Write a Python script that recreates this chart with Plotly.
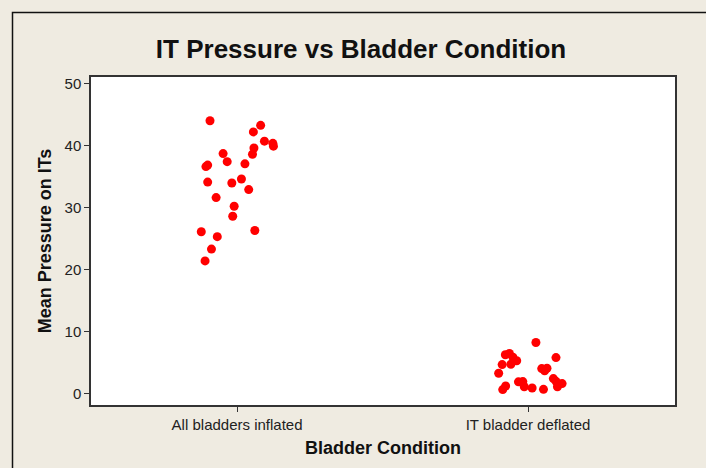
import plotly.graph_objects as go

# Group 1: All bladders inflated (jittered x position, mean pressure)
inflated_x = [0.907, 1.081, 1.056, 1.094, 1.123, 1.125, 1.058, 1.053, 0.952, 0.966,
              0.899, 0.893, 1.027, 0.899, 0.982, 1.015, 1.040, 0.928, 0.990, 0.985,
              0.877, 1.061, 0.932, 0.912, 0.890]
inflated_y = [44.0, 43.25, 42.2, 40.7, 40.35, 39.9, 39.6, 38.6, 38.7, 37.4,
              36.85, 36.6, 37.05, 34.1, 33.95, 34.6, 32.9, 31.6, 30.2, 28.6,
              26.1, 26.3, 25.3, 23.3, 21.4]

# Group 2: IT bladder deflated
deflated_x = [2.027, 1.936, 1.922, 1.948, 1.961, 1.941, 1.911, 2.096, 1.899, 2.047,
              2.065, 2.057, 2.087, 1.967, 1.982, 2.117, 2.101, 1.987, 2.014, 2.053,
              1.923, 1.913, 2.096]
deflated_y = [8.23, 6.46, 6.26, 5.86, 5.29, 4.73, 4.68, 5.81, 3.28, 4.03,
              4.08, 3.68, 2.42, 1.90, 1.94, 1.61, 1.10, 1.10, 0.90, 0.69,
              1.23, 0.65, 1.98]

tick_vals = [1, 2]
tick_text = ["All bladders inflated", "IT bladder deflated"]
y_ticks = [0, 10, 20, 30, 40, 50]

BG = "#EFEBE1"

fig = go.Figure()
fig.add_trace(go.Scatter(x=inflated_x + deflated_x, y=inflated_y + deflated_y,
                         mode="markers",
                         marker=dict(color="#FF0000", size=9, line=dict(width=0)),
                         showlegend=False))

W, H = 706, 468
L, R, T, B = 91, 675, 77, 404.7
pw, ph = R - L, B - T

def px(x):
    return (x - L) / pw

def py(y):
    return (B - y) / ph

fig.update_layout(
    width=W, height=H,
    margin=dict(l=L, r=W - R, t=T, b=H - B, pad=0),
    paper_bgcolor=BG,
    plot_bgcolor="#FFFFFF",
    title=dict(text="<b>IT Pressure vs Bladder Condition</b>",
               x=361 / W, xanchor="center", xref="container",
               y=1 - 49 / H, yanchor="middle",
               font=dict(family="Liberation Sans", size=26, color="#111111")),
    font=dict(family="Liberation Sans", color="#222222"),
    xaxis=dict(range=[0.498, 2.505], tickvals=tick_vals, ticktext=tick_text,
               showgrid=False, zeroline=False, showline=True, linecolor="#333333",
               linewidth=1.5, mirror=True, ticks="outside", ticklen=5, tickcolor="#333333",
               tickfont=dict(size=15, color="#222222"),
               title=dict(text="<b>Bladder Condition</b>", standoff=10,
                          font=dict(size=18, color="#111111"))),
    yaxis=dict(range=[-1.84, 51.05], tickvals=y_ticks,
               showgrid=False, zeroline=False, showline=True, linecolor="#333333",
               linewidth=1.5, mirror=True, ticks="outside", ticklen=5, tickcolor="#333333",
               tickfont=dict(size=15, color="#222222"),
               title=dict(text="<b>Mean Pressure on ITs</b>", standoff=8,
                          font=dict(size=18, color="#111111"))),
    shapes=[dict(type="rect", xref="paper", yref="paper",
                 x0=px(12.5), x1=px(720), y0=py(12.5), y1=py(480),
                 line=dict(color="#111111", width=1.5), fillcolor="rgba(0,0,0,0)",
                 layer="below")],
)

fig.write_html("out.html",
               config={"displayModeBar": False},
               post_script="document.body.style.margin='0';"
                           "document.body.style.background='" + BG + "';")
